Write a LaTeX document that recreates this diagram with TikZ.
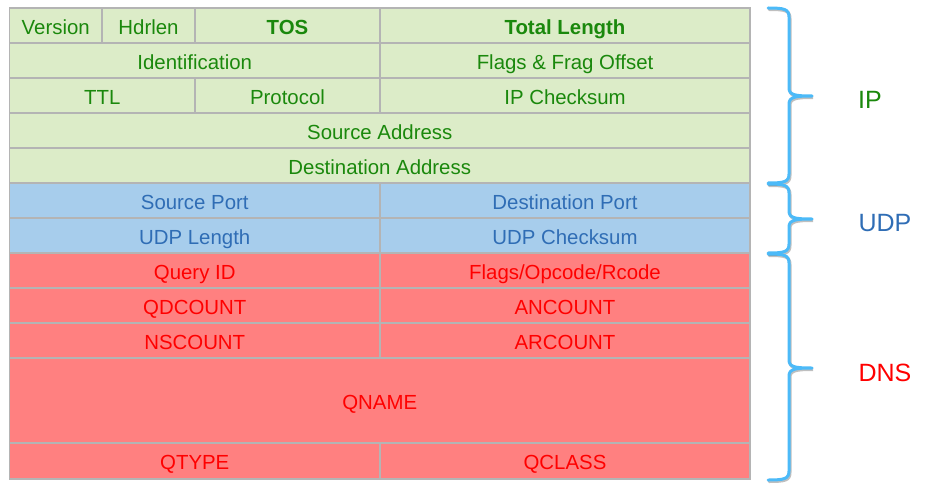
\documentclass[tikz,border=0pt]{standalone}
\usepackage{fontspec}
\setmainfont{Liberation Sans}
\definecolor{ipfill}{HTML}{DCECC8}
\definecolor{udpfill}{HTML}{A7CDEC}
\definecolor{dnsfill}{HTML}{FF8080}
\definecolor{iptext}{HTML}{1A880C}
\definecolor{udptext}{HTML}{2F6DB5}
\definecolor{dnstext}{HTML}{FF0000}
\definecolor{gridline}{HTML}{B4B4B4}
\definecolor{bracecol}{HTML}{4CBAF8}
\tikzset{
  cell/.style={draw=gridline, line width=1.5pt, inner sep=0pt, outer sep=0pt,
    anchor=north west, font=\fontsize{20.4}{23}\selectfont,
    text height=17.6pt, text depth=0pt},
  ipcell/.style={cell, fill=ipfill, text=iptext},
  udpcell/.style={cell, fill=udpfill, text=udptext},
  dnscell/.style={cell, fill=dnsfill, text=dnstext},
  bracepath/.style={draw=bracecol, line width=3pt, line cap=round, line join=round},
  braceshadow/.style={draw=black, opacity=0.25, line width=3pt, line cap=round},
  layer/.style={font=\fontsize{25}{28}\selectfont, anchor=center}
}
% \fieldcell{name}{style}{x1}{y1}{x2}{y2}{text}
\newcommand{\fieldcell}[7]{%
  \node[#2, minimum width={(#5-#3)*1pt}, minimum height={(#6-#4)*1pt}] (#1) at (#3,#4) {#7};}
% \layerbrace{top}{tip}{bottom}
\newcommand{\layerbrace}[4][bracepath]{%
  \draw[#1] (768,#2) .. controls (784,#2) and (789,#2+1) .. (789,#2+9)
    -- (789,#3-8) .. controls (789,#3-1) and (795,#3) .. (812,#3)
    .. controls (795,#3) and (789,#3+1) .. (789,#3+8)
    -- (789,#4-9) .. controls (789,#4-1) and (784,#4) .. (768,#4);}
\begin{document}
\begin{tikzpicture}[x=1pt,y=-1pt]
\useasboundingbox (0,0) rectangle (931,492);
% IP header
\fieldcell{ver}{ipcell}{9.5}{8}{102}{43}{Version}
\fieldcell{hlen}{ipcell}{102}{8}{195}{43}{Hdrlen}
\fieldcell{tos}{ipcell}{195}{8}{380}{43}{\bfseries TOS}
\fieldcell{tlen}{ipcell}{380}{8}{750}{43}{\bfseries Total Length}
\fieldcell{ident}{ipcell}{9.5}{43}{380}{78}{Identification}
\fieldcell{frag}{ipcell}{380}{43}{750}{78}{Flags \& Frag Offset}
\fieldcell{ttl}{ipcell}{9.5}{78}{195}{113}{TTL}
\fieldcell{proto}{ipcell}{195}{78}{380}{113}{Protocol}
\fieldcell{ipsum}{ipcell}{380}{78}{750}{113}{IP Checksum}
\fieldcell{src}{ipcell}{9.5}{113}{750}{148}{Source Address}
\fieldcell{dst}{ipcell}{9.5}{148}{750}{183}{Destination Address}
% UDP header
\fieldcell{sport}{udpcell}{9.5}{183}{380}{218}{Source Port}
\fieldcell{dport}{udpcell}{380}{183}{750}{218}{Destination Port}
\fieldcell{ulen}{udpcell}{9.5}{218}{380}{253}{UDP Length}
\fieldcell{usum}{udpcell}{380}{218}{750}{253}{UDP Checksum}
% DNS message
\fieldcell{qid}{dnscell}{9.5}{253}{380}{288}{Query ID}
\fieldcell{flags}{dnscell}{380}{253}{750}{288}{Flags/Opcode/Rcode}
\fieldcell{qd}{dnscell}{9.5}{288}{380}{323}{QDCOUNT}
\fieldcell{an}{dnscell}{380}{288}{750}{323}{ANCOUNT}
\fieldcell{ns}{dnscell}{9.5}{323}{380}{358}{NSCOUNT}
\fieldcell{ar}{dnscell}{380}{323}{750}{358}{ARCOUNT}
\fieldcell{qname}{dnscell}{9.5}{358}{750}{443}{QNAME}
\fieldcell{qtype}{dnscell}{9.5}{443}{380}{479}{QTYPE}
\fieldcell{qclass}{dnscell}{380}{443}{750}{479}{QCLASS}
% braces with a soft shadow
\begin{scope}[shift={(1,1.5)}]
  \layerbrace[braceshadow]{8}{96}{183}
  \layerbrace[braceshadow]{184}{219}{253}
  \layerbrace[braceshadow]{254}{368}{480}
\end{scope}
\layerbrace{8}{96}{183}
\layerbrace{184}{219}{253}
\layerbrace{254}{368}{480}
% layer labels
\node[layer, text=iptext] (lip) at (870,100) {IP};
\node[layer, text=udptext] (ludp) at (885,223) {UDP};
\node[layer, text=dnstext] (ldns) at (885,373) {DNS};
\end{tikzpicture}
\end{document}
